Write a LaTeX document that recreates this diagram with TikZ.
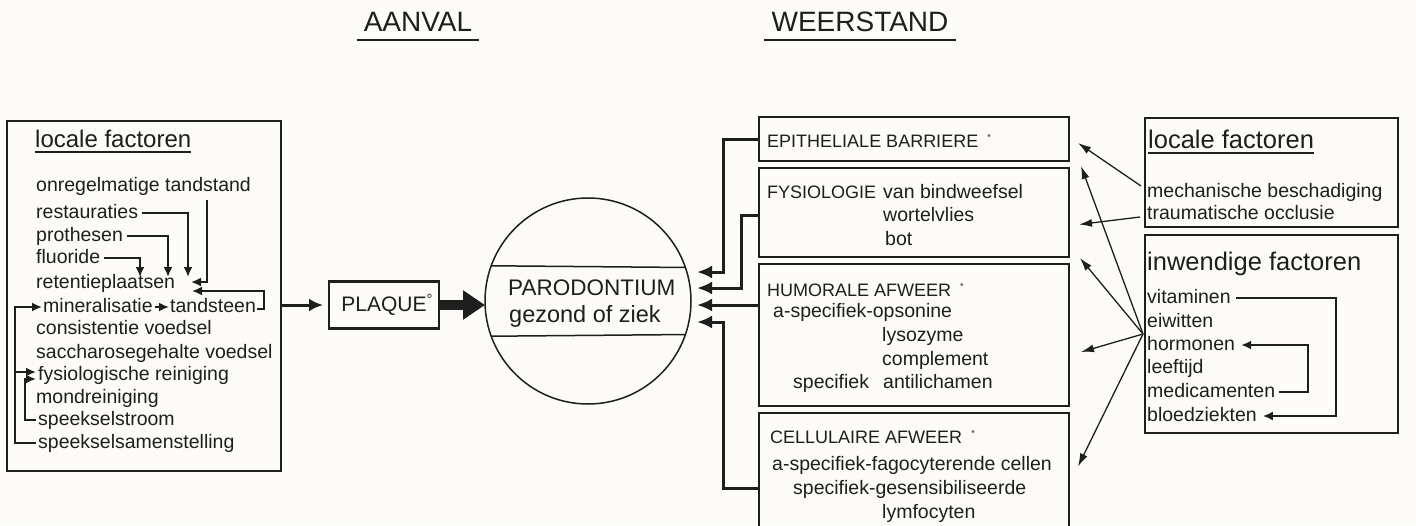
\documentclass[tikz,border=0pt]{standalone}
\usepackage{fontspec}
\setmainfont{Liberation Sans}
\usetikzlibrary{arrows.meta}
\definecolor{papier}{RGB}{252,251,247}
\definecolor{inkt}{RGB}{30,30,30}
\newcommand{\ster}{\hspace{0.5em}\raisebox{7pt}{\fontsize{9}{9}\selectfont*}}
\begin{document}
\begin{tikzpicture}[x=1pt, y=-1pt, inkt,
  item/.style={font=\fontsize{19.5}{22}\selectfont, inner sep=0pt, anchor=base west, text height=14.1pt, text depth=4.1pt},
  kap/.style={font=\fontsize{18}{20}\selectfont, inner sep=0pt, anchor=base west},
  kop/.style={font=\fontsize{24}{28}\selectfont, inner sep=0pt, anchor=base west},
  titel/.style={font=\fontsize{28}{32}\selectfont, inner sep=0pt, anchor=base},
  vak/.style={draw, line width=2.5pt, inner sep=0pt, outer sep=0pt, anchor=north west},
  pijl/.style={-{Latex[length=10pt,width=9pt]}, line width=1.8pt},
  aanvoer/.style={-{Latex[length=15pt,width=13pt]}, line width=3pt},
  dun/.style={-{Latex[length=13pt,width=8pt]}, line width=1.3pt}]
\useasboundingbox (0,0) rectangle (1416,525);
\fill[papier] (0,0) rectangle (1416,525);

\node[titel] (aanval) at (418,31) {AANVAL};
\node[titel] (weerstand) at (860,31) {WEERSTAND};
\draw[line width=2pt] ([shift={(-7,9)}]aanval.base west) -- ([shift={(7,9)}]aanval.base east);
\draw[line width=2pt] ([shift={(-7,9)}]weerstand.base west) -- ([shift={(7,9)}]weerstand.base east);

\node[vak, minimum width=274pt, minimum height=350pt] (lokaal) at (7,121) {};
\node[kop] (lokKop) at (35,147) {locale factoren};
\draw[line width=1.2pt] ([yshift=-5pt]lokKop.base west) -- ([yshift=-5pt]lokKop.base east);
\node[item] (onreg) at (36,191) {onregelmatige tandstand};
\node[item] (rest) at (36,218) {restauraties};
\node[item] (proth) at (36,241) {prothesen};
\node[item] (fluor) at (36,263) {fluoride};
\node[item] (reten) at (36,288) {retentieplaatsen};
\node[item] (miner) at (43,312) {mineralisatie};
\node[item] (steen) at (170,312) {tandsteen};
\node[item] (consis) at (36,334) {consistentie voedsel};
\node[item] (sacch) at (36,358) {saccharosegehalte voedsel};
\node[item] (fysio) at (38,380) {fysiologische reiniging};
\node[item] (mond) at (36,403) {mondreiniging};
\node[item] (stroom) at (38,425) {speekselstroom};
\node[item] (samen) at (38,448) {speekselsamenstelling};

\coordinate (tipF) at (140,277);
\coordinate (tipP) at (168,277);
\coordinate (tipR) at (188,277);
\coordinate (onregV) at (207,200);
\coordinate (tipO) at (191,282);
\coordinate (steenR) at (264,300);
\coordinate (tipS) at (192,291);
\coordinate (buiten) at (15,380);
\coordinate (binnen) at (25,400);
\coordinate (fysBoven) at (36,372);
\coordinate (fysOnder) at (36,379);
\draw[pijl] ([xshift=4pt]fluor.east) -| (tipF);
\draw[pijl] ([xshift=4pt]proth.east) -| (tipP);
\draw[pijl] ([xshift=4pt]rest.east) -| (tipR);
\draw[pijl] (onregV) |- (tipO);
\draw[pijl] ([shift={(1,2)}]steen.east) -| (steenR) |- (tipS);
\draw[pijl] ([xshift=2pt]miner.east) -- ([xshift=-1pt]steen.west);
\draw[pijl] ([xshift=-2pt]samen.west) -| (buiten) |- ([xshift=-1pt]miner.west);
\draw[pijl] (buiten |- fysBoven) -- (fysBoven);
\draw[pijl] ([xshift=-2pt]stroom.west) -| (binnen) |- (fysOnder);

\node[vak, anchor=center, minimum width=110pt, minimum height=47pt, font=\fontsize{21}{24}\selectfont] (plaque) at (384,305) {PLAQUE\rlap{\textsuperscript{°}}};
\draw[line width=3pt, -{Latex[length=14pt,width=13pt]}] (lokaal.east |- plaque.west) -- ([xshift=-6pt]plaque.west);

\node[draw, circle, line width=1.5pt, minimum size=206pt, inner sep=0pt, outer sep=0pt] (paro) at (588,301) {};
\draw[line width=1.5pt] (paro.160.8) -- (paro.19.2);
\draw[line width=1.5pt] (paro.-160.8) -- (paro.-19.2);
\node[font=\fontsize{22.5}{26}\selectfont, inner sep=0pt, anchor=base west] (paroKop) at (508,295) {PARODONTIUM};
\node[font=\fontsize{23.5}{26}\selectfont, inner sep=0pt, anchor=base west] (gezond) at (509,322) {gezond of ziek};
\draw[line width=10pt, -{Triangle[length=22pt,width=28pt]}] (plaque.east) -- (paro.west |- plaque.east);

\node[vak, minimum width=310pt, minimum height=44pt] (epith) at (759,117) {};
\node[vak, minimum width=310pt, minimum height=89pt] (fys) at (759,168) {};
\node[vak, minimum width=310pt, minimum height=142pt] (hum) at (759,264) {};
\node[vak, minimum width=310pt, minimum height=115pt] (cell) at (759,413) {};
\node[kap] (epithT) at (767,147) {EPITHELIALE BARRIERE\ster};
\node[kap] (fysT) at (767,198) {FYSIOLOGIE};
\node[item] (fysA) at (883,198) {van bindweefsel};
\node[item] (fysB) at (883,221) {wortelvlies};
\node[item] (fysC) at (885,245) {bot};
\node[kap] (humT) at (767,296) {HUMORALE AFWEER\ster};
\node[item] (humA) at (773,317) {a-specifiek-opsonine};
\node[item] (humB) at (882,341) {lysozyme};
\node[item] (humC) at (882,365) {complement};
\node[item] (humD) at (793,388) {specifiek};
\node[item] (humE) at (883,388) {antilichamen};
\node[kap] (cellT) at (770,443) {CELLULAIRE AFWEER\ster};
\node[item] (cellA) at (772,470) {a-specifiek-fagocyterende cellen};
\node[item] (cellB) at (793,494) {specifiek-gesensibiliseerde};
\node[item] (cellC) at (882,518) {lymfocyten};

\coordinate (k1) at (723,0);
\coordinate (k2) at (741,0);
\coordinate (in1) at ([shift={(6,-29)}]paro.east);
\coordinate (in2) at ([shift={(6,-13)}]paro.east);
\coordinate (in3) at ([shift={(6,4)}]paro.east);
\coordinate (in4) at ([shift={(6,21)}]paro.east);
\draw[aanvoer] (epith.west) -| (k1 |- in1) -- (in1);
\draw[aanvoer] ([yshift=-3pt]fys.west) -| (k2 |- in2) -- (in2);
\draw[aanvoer] (hum.west |- in3) -- (in3);
\draw[aanvoer] ([yshift=-18pt]cell.west) -| (k1 |- in4) -- (in4);

\node[vak, minimum width=253pt, minimum height=109pt] (lokR) at (1145,118) {};
\node[kop, font=\fontsize{25.5}{28}\selectfont] (lokRKop) at (1148,148) {locale factoren};
\draw[line width=1.2pt] ([yshift=-5pt]lokRKop.base west) -- ([yshift=-5pt]lokRKop.base east);
\node[item] (mech) at (1147,197) {mechanische beschadiging};
\node[item] (traum) at (1147,219) {traumatische occlusie};

\node[vak, minimum width=253pt, minimum height=198pt] (inw) at (1145,235) {};
\node[kop, font=\fontsize{25.5}{28}\selectfont] (inwKop) at (1147,270) {inwendige factoren};
\node[item] (vit) at (1147,303) {vitaminen};
\node[item] (eiw) at (1147,327) {eiwitten};
\node[item] (horm) at (1147,350) {hormonen};
\node[item] (leef) at (1147,373) {leeftijd};
\node[item] (medi) at (1147,397) {medicamenten};
\node[item] (bloed) at (1147,421) {bloedziekten};

\coordinate (vitR) at (1336,360);
\coordinate (mediR) at (1308,370);
\draw[pijl] ([xshift=5pt]vit.east) -| (vitR) |- ([xshift=6pt]bloed.east);
\draw[pijl] ([xshift=4pt]medi.east) -| (mediR) |- ([xshift=6pt]horm.east);

\coordinate (bron) at (1143,334);
\draw[dun] ([shift={(-6,-6)}]mech.west) -- ([shift={(9,4)}]epith.east);
\draw[dun] ([shift={(-7,3)}]traum.west) -- ([shift={(10,12)}]fys.east);
\draw[dun] (bron) -- ([shift={(12,-2)}]fys.north east);
\draw[dun] (bron) -- ([shift={(11,1)}]fys.south east);
\draw[dun] (bron) -- ([shift={(12,17)}]hum.east);
\draw[dun] (bron) -- ([shift={(9,-4)}]cell.east);
\end{tikzpicture}
\end{document}
